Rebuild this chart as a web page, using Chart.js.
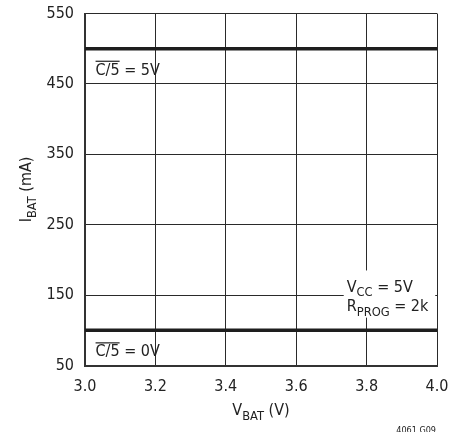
<!DOCTYPE html>
<html>
<head>
<meta charset="utf-8">
<script src="https://cdn.jsdelivr.net/npm/chart.js@4.4.0/dist/chart.umd.min.js"></script>
<style>
  html, body { margin: 0; padding: 0; background: #fff; }
  #wrap { width: 466px; height: 432px; }
</style>
</head>
<body>
<div id="wrap"><canvas id="ibatChart"></canvas></div>
<script>
// data
var vbat = [3.0, 4.0];
var ibatC5High = [500, 500];   // C/5 = 5V
var ibatC5Low = [100, 100];    // C/5 = 0V
var xTicks = [3.0, 3.2, 3.4, 3.6, 3.8, 4.0];
var yTicks = [50, 150, 250, 350, 450, 550];

var FONT = '"Liberation Sans Narrow", "DejaVu Sans Condensed", Arial, sans-serif';

function pts(xs, ys) {
  return xs.map(function (x, i) { return {x: x, y: ys[i]}; });
}

// draws text pieces, sub:true pieces get dropped and shrunk
function drawRich(ctx, parts, x, y, size, align) {
  var w = 0;
  parts.forEach(function (p) {
    ctx.font = (p.sub ? size * 0.8 : size) + 'px ' + FONT;
    p.w = ctx.measureText(p.t).width;
    w += p.w;
  });
  var cx = align === 'center' ? x - w / 2 : x;
  ctx.textAlign = 'left';
  ctx.textBaseline = 'alphabetic';
  parts.forEach(function (p) {
    ctx.font = (p.sub ? size * 0.8 : size) + 'px ' + FONT;
    ctx.fillText(p.t, cx, p.sub ? y + size * 0.3 : y);
    if (p.over) {
      ctx.fillRect(cx, y - size * 0.88, p.w, 1.2);
    }
    cx += p.w;
  });
  return w;
}

var notes = {
  id: 'notes',
  afterDatasetsDraw: function (chart) {
    var ctx = chart.ctx;
    var xs = chart.scales.x, ys = chart.scales.y;
    ctx.save();
    ctx.fillStyle = '#222';

    drawRich(ctx, [{t: 'C/5', over: true}, {t: ' = 5V'}], xs.getPixelForValue(3.03), ys.getPixelForValue(463), 16);
    drawRich(ctx, [{t: 'C/5', over: true}, {t: ' = 0V'}], xs.getPixelForValue(3.03), ys.getPixelForValue(63), 16);

    // white box behind the conditions
    var bx = xs.getPixelForValue(3.735), by = ys.getPixelForValue(185);
    ctx.fillStyle = '#fff';
    ctx.fillRect(bx, by, xs.getPixelForValue(3.995) - bx, ys.getPixelForValue(118) - by);
    ctx.fillStyle = '#222';
    drawRich(ctx, [{t: 'V'}, {t: 'CC', sub: true}, {t: ' = 5V'}], bx + 3, ys.getPixelForValue(155), 16);
    drawRich(ctx, [{t: 'R'}, {t: 'PROG', sub: true}, {t: ' = 2k'}], bx + 3, ys.getPixelForValue(127), 16);

    // axis titles
    drawRich(ctx, [{t: 'V'}, {t: 'BAT', sub: true}, {t: ' (V)'}], (xs.left + xs.right) / 2, 415, 16, 'center');
    ctx.save();
    ctx.translate(31, (ys.top + ys.bottom) / 2);
    ctx.rotate(-Math.PI / 2);
    drawRich(ctx, [{t: 'I'}, {t: 'BAT', sub: true}, {t: ' (mA)'}], 0, 0, 16, 'center');
    ctx.restore();

    ctx.font = '9px ' + FONT;
    ctx.textAlign = 'right';
    ctx.textBaseline = 'top';
    ctx.fillText('4061 G09', 436, 426);
    ctx.restore();
  }
};

var ctxI = document.getElementById('ibatChart');
var ibatChart = new Chart(ctxI, {
  type: 'scatter',
  data: {
    datasets: [{
      label: 'C/5 = 5V',
      data: pts(vbat, ibatC5High),
      showLine: true,
      borderColor: '#1e1e1e',
      borderWidth: 3.5,
      pointRadius: 0
    }, {
      label: 'C/5 = 0V',
      data: pts(vbat, ibatC5Low),
      showLine: true,
      borderColor: '#1e1e1e',
      borderWidth: 3.5,
      pointRadius: 0
    }]
  },
  options: {
    responsive: true,
    maintainAspectRatio: false,
    animation: false,
    layout: { padding: { top: 13.5, right: 29, left: 0, bottom: 0 } },
    plugins: { legend: { display: false }, tooltip: { enabled: false } },
    scales: {
      x: {
        type: 'linear',
        min: 3.0, max: 4.0,
        afterBuildTicks: function (axis) { axis.ticks = xTicks.map(function (v) { return {value: v}; }); },
        afterFit: function (axis) { axis.height = 66.5; axis.paddingLeft = 0; axis.paddingRight = 0; },
        ticks: {
          color: '#222', font: { family: FONT, size: 16 }, padding: 12, maxRotation: 0,
          callback: function (v) { return v.toFixed(1); }
        },
        grid: { color: '#2a2a2a', lineWidth: 1, drawTicks: false },
        border: { display: true, color: '#333', width: 2 }
      },
      y: {
        type: 'linear',
        min: 50, max: 550,
        afterBuildTicks: function (axis) { axis.ticks = yTicks.map(function (v) { return {value: v}; }); },
        afterFit: function (axis) { axis.width = 85; axis.paddingTop = 0; axis.paddingBottom = 0; },
        ticks: { color: '#222', font: { family: FONT, size: 16 }, padding: 11 },
        grid: { color: '#2a2a2a', lineWidth: 1, drawTicks: false },
        border: { display: true, color: '#333', width: 2 }
      }
    }
  },
  plugins: [notes]
});
</script>
</body>
</html>
